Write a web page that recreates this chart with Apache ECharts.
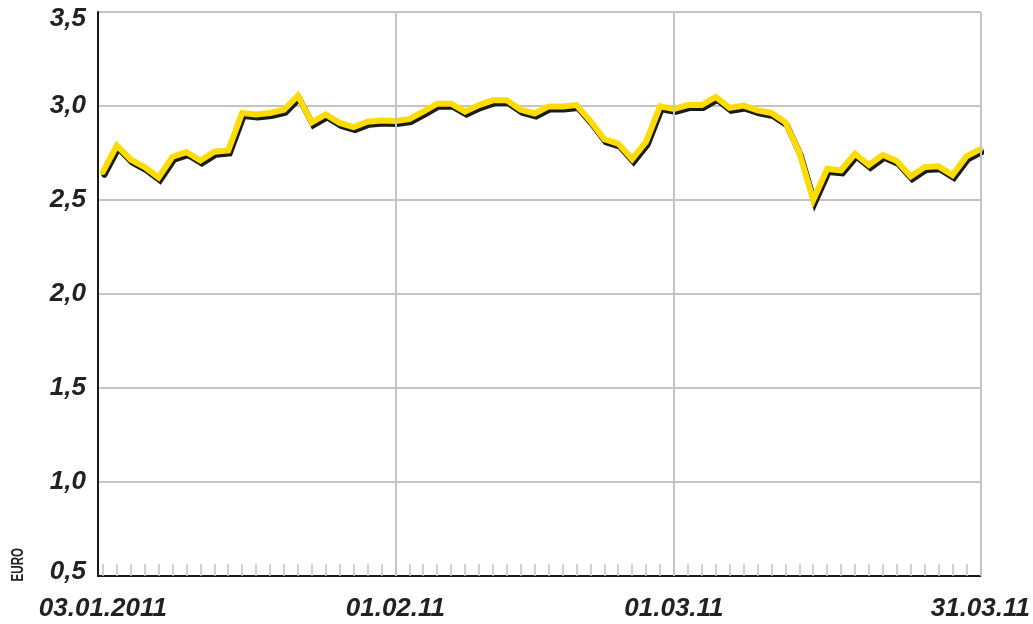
<!DOCTYPE html>
<html>
<head>
<meta charset="utf-8">
<script src="https://cdn.jsdelivr.net/npm/echarts@6/dist/echarts.min.js"></script>
<style>
html,body{margin:0;padding:0;background:#fff;}
#chart{width:1033px;height:624px;}
</style>
</head>
<body>
<div id="chart"></div>
<script>
// Trading days 03.01.2011 – 31.03.2011
const dates = [
  '03.01','04.01','05.01','06.01','07.01','10.01','11.01','12.01','13.01','14.01',
  '17.01','18.01','19.01','20.01','21.01','24.01','25.01','26.01','27.01','28.01','31.01',
  '01.02','02.02','03.02','04.02','07.02','08.02','09.02','10.02','11.02',
  '14.02','15.02','16.02','17.02','18.02','21.02','22.02','23.02','24.02','25.02','28.02',
  '01.03','02.03','03.03','04.03','07.03','08.03','09.03','10.03','11.03',
  '14.03','15.03','16.03','17.03','18.03','21.03','22.03','23.03','24.03','25.03',
  '28.03','29.03','30.03','31.03'
];
// Price in EUR
const prices = [
  2.65, 2.79, 2.715, 2.675, 2.62, 2.73, 2.755, 2.71, 2.757, 2.764,
  2.963, 2.955, 2.963, 2.98, 3.055, 2.913, 2.955, 2.91, 2.888, 2.916, 2.923,
  2.92, 2.93, 2.97, 3.012, 3.012, 2.97, 3.005, 3.03, 3.03,
  2.98, 2.96, 2.998, 2.998, 3.005, 2.92, 2.824, 2.80, 2.718, 2.81, 2.998,
  2.984, 3.005, 3.005, 3.048, 2.99, 3.002, 2.977, 2.963, 2.913,
  2.753, 2.50, 2.665, 2.658, 2.746, 2.686, 2.74, 2.707, 2.626, 2.675,
  2.679, 2.633, 2.732, 2.771
];
// Labelled x positions (indices into dates) and their texts
const xLabelIdx = [0, 21, 41, 63];
const xLabelText = ['03.01.2011', '01.02.11', '01.03.11', '31.03.11'];
// Vertical grid lines
const xGridIdx = [21, 41, 63];
// y ticks
const yMin = 0.5, yMax = 3.5, yStep = 0.5;

const seriesData = prices.map((v, i) => [i, v]);
const tickIdx = dates.map((d, i) => i);

const labelFont = "'Liberation Sans','Roboto',sans-serif";

const chart = echarts.init(document.getElementById('chart'), null, {renderer: 'canvas'});
chart.setOption({
  animation: false,
  backgroundColor: '#fff',
  grid: {left: 98, right: 49, top: 12, bottom: 48, containLabel: false},
  xAxis: {
    type: 'value',
    min: -0.35,
    max: dates.length - 1,
    axisLine: {show: true, onZero: false, lineStyle: {color: '#1a1a1a', width: 2}},
    axisTick: {show: true, inside: true, length: 12, customValues: tickIdx,
      lineStyle: {color: '#c2c2c2', width: 1.5}},
    axisLabel: {
      show: true, customValues: xLabelIdx, margin: 20,
      formatter: v => xLabelText[xLabelIdx.indexOf(Math.round(v))] || '',
      color: '#222', fontSize: 26, fontWeight: 'bold', fontStyle: 'italic', fontFamily: labelFont
    },
    splitLine: {show: false}
  },
  yAxis: {
    type: 'value',
    min: yMin, max: yMax, interval: yStep,
    axisLine: {show: true, onZero: false, lineStyle: {color: '#1a1a1a', width: 2}},
    axisTick: {show: false},
    axisLabel: {
      formatter: v => {
        const t = v.toFixed(1).replace('.', ',');
        if (v === yMax) return '{hi|' + t + '}';
        if (v === yMin) return '{lo|' + t + '}';
        return t;
      },
      rich: {
        hi: {padding: [14, 0, 0, 0], color: '#222', fontSize: 26, fontWeight: 'bold', fontStyle: 'italic', fontFamily: labelFont},
        lo: {padding: [0, 0, 8, 0], color: '#222', fontSize: 26, fontWeight: 'bold', fontStyle: 'italic', fontFamily: labelFont}
      },
      color: '#222', fontSize: 26, fontWeight: 'bold', fontStyle: 'italic', fontFamily: labelFont,
      margin: 12
    },
    splitLine: {show: true, lineStyle: {color: '#c4c4c4', width: 2}}
  },
  graphic: [{
    type: 'text', left: 10, top: 548, rotation: Math.PI / 2, scaleX: 0.68,
    style: {text: 'EURO', fill: '#222', font: "bold 17px 'Liberation Sans','DejaVu Sans',sans-serif"}
  }],
  series: [
    {
      type: 'line', z: 1, silent: true, data: seriesData, showSymbol: false,
      lineStyle: {width: 0, opacity: 0},
      markLine: {
        silent: true, symbol: 'none', label: {show: false},
        lineStyle: {color: '#c4c4c4', width: 2, type: 'solid'},
        data: xGridIdx.map(x => ({xAxis: x}))
      }
    },
    {
      type: 'line', z: 3, data: seriesData, showSymbol: false, smooth: false,
      lineStyle: {
        color: '#ffdc00', width: 6, join: 'miter', cap: 'round',
        shadowColor: '#1a1a1a', shadowBlur: 0, shadowOffsetX: 1.5, shadowOffsetY: 3
      }
    }
  ]
});
</script>
</body>
</html>
